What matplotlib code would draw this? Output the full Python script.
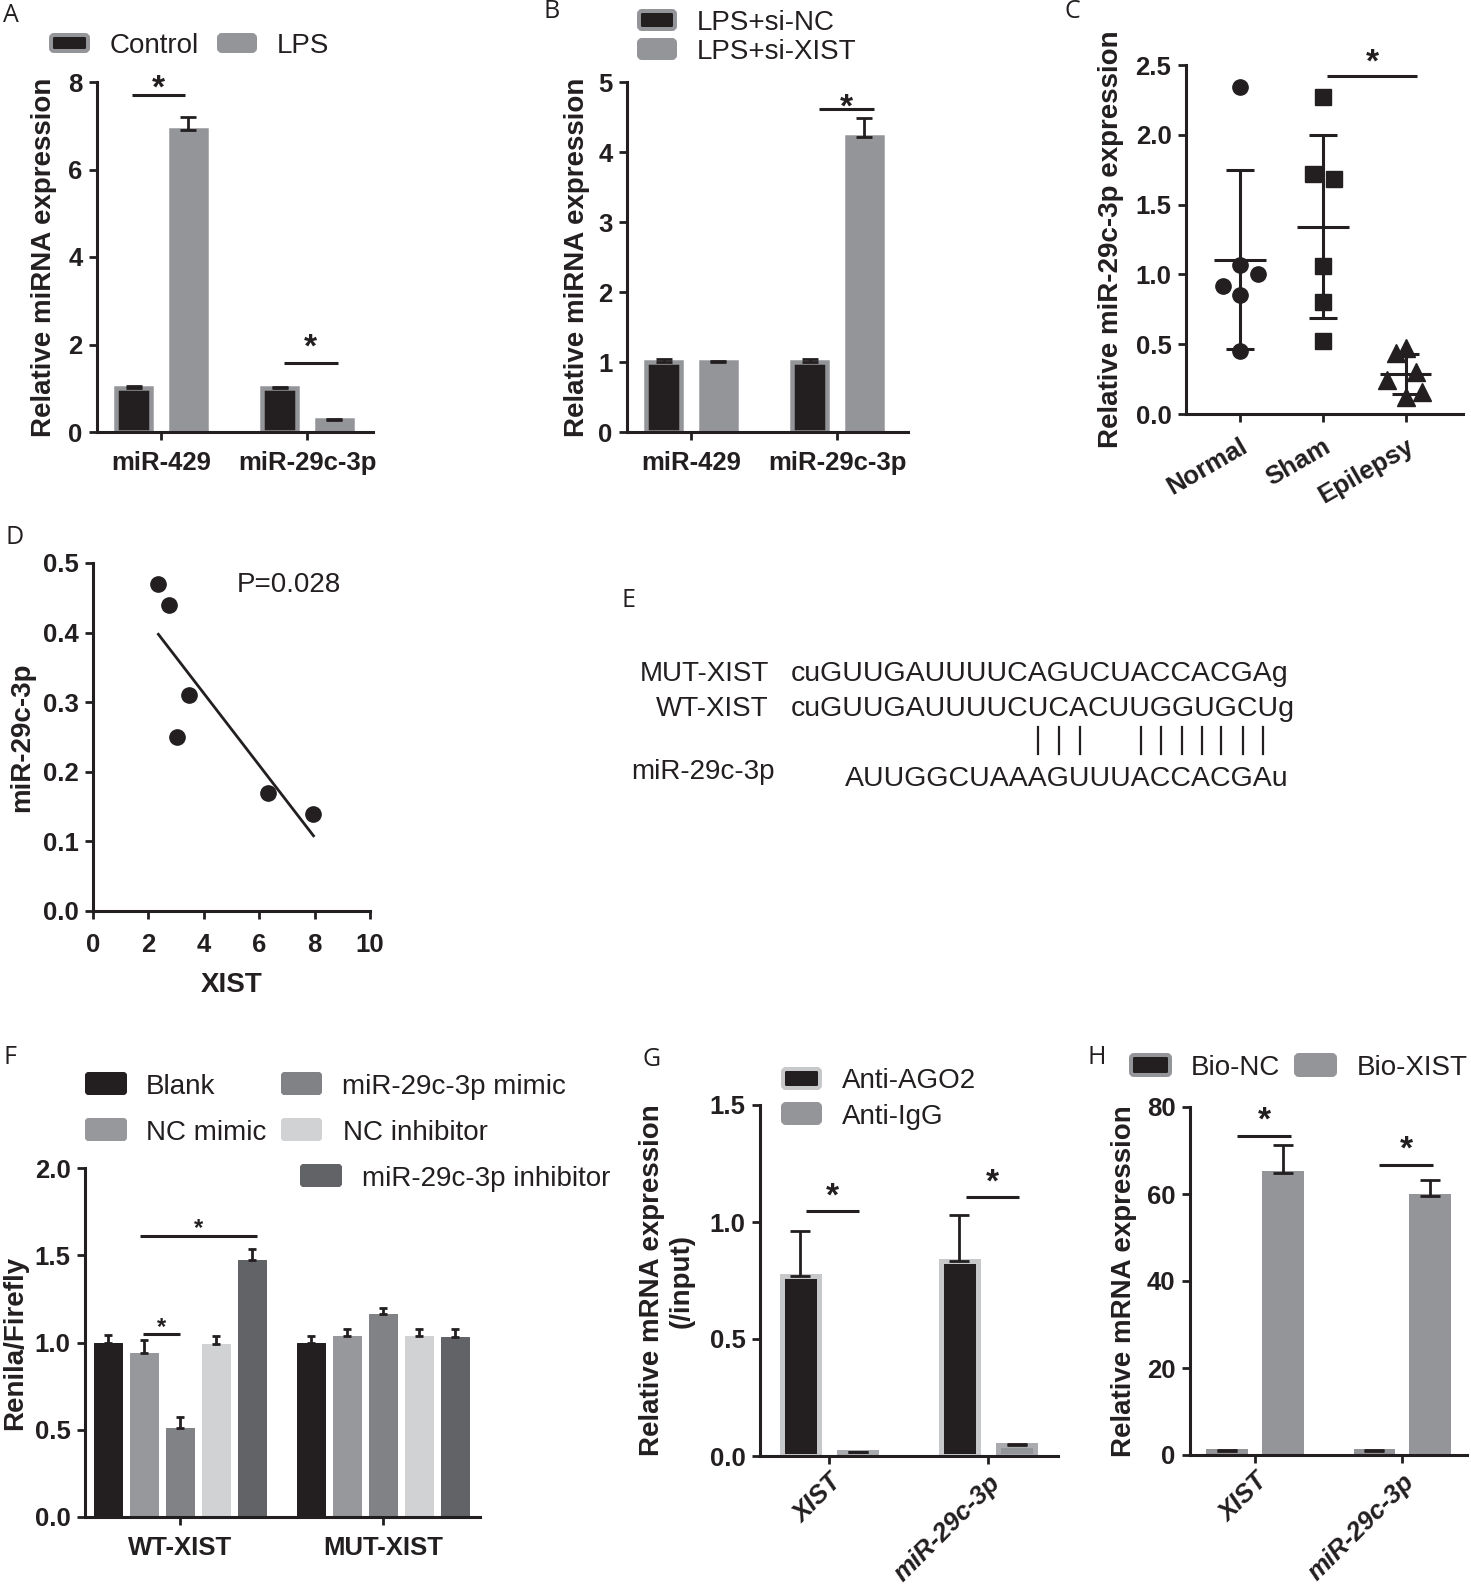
"""Eight-panel XIST / miR-29c-3p figure (A-H) rebuilt with matplotlib."""

import matplotlib
matplotlib.use("Agg")
import matplotlib.pyplot as plt
import numpy as np
from matplotlib.lines import Line2D
from matplotlib.patches import FancyBboxPatch
from matplotlib.transforms import IdentityTransform
from matplotlib.font_manager import FontProperties

W, H, DPI = 1471, 1588, 100
INK = "#231f20"
GREY = "#939598"
PALE = "#c7c8ca"

plt.rcParams.update({
    "font.family": ["Liberation Sans", "DejaVu Sans"],
    "font.size": 20,
    "text.color": INK,
    "axes.edgecolor": INK,
    "axes.labelcolor": INK,
    "xtick.color": INK,
    "ytick.color": INK,
    "axes.linewidth": 2.2,
    "xtick.major.width": 2.0,
    "ytick.major.width": 2.0,
    "xtick.major.size": 5.5,
    "ytick.major.size": 5.5,
    "xtick.major.pad": 8,
    "ytick.major.pad": 5,
    "xtick.labelsize": 18.5,
    "ytick.labelsize": 18.5,
    "axes.spines.top": False,
    "axes.spines.right": False,
})

# ----------------------------------------------------------------------
# Data
# ----------------------------------------------------------------------
MIRS = ["miR-429", "miR-29c-3p"]

A_CONTROL = [1.0, 1.0]
A_CONTROL_ERR = [0.05, 0.04]
A_LPS = [6.9, 0.27]
A_LPS_ERR = [0.3, 0.02]

B_SI_NC = [1.0, 1.0]
B_SI_NC_ERR = [0.05, 0.04]
B_SI_XIST = [1.0, 4.22]
B_SI_XIST_ERR = [0.01, 0.27]

C_GROUPS = ["Normal", "Sham", "Epilepsy"]
C_NORMAL = [2.34, 1.07, 1.00, 0.92, 0.85, 0.45]
C_NORMAL_DX = [0.0, 0.0, 0.22, -0.2, 0.0, 0.0]
C_SHAM = [2.27, 1.72, 1.68, 1.06, 0.80, 0.525]
C_SHAM_DX = [0.0, -0.12, 0.13, 0.0, 0.0, 0.0]
C_EPILEPSY = [0.47, 0.435, 0.30, 0.24, 0.16, 0.125]
C_EPILEPSY_DX = [0.0, -0.12, 0.12, -0.23, 0.2, 0.0]

D_XIST = [2.36, 2.74, 3.04, 3.46, 6.31, 7.96]
D_MIR = [0.47, 0.44, 0.25, 0.31, 0.17, 0.14]
D_P_TEXT = "P=0.028"

E_MUT = "cuGUUGAUUUUCAGUCUACCACGAg"
E_WT = "cuGUUGAUUUUCUCACUUGGUGCUg"
E_MIR = "AUUGGCUAAAGUUUACCACGAu"
E_PAIRED = [9, 10, 11, 14, 15, 16, 17, 18, 19, 20]  # miR bases paired with WT

F_GROUPS = ["WT-XIST", "MUT-XIST"]
F_BLANK = [1.0, 1.0]
F_BLANK_ERR = [0.045, 0.035]
F_NC_MIMIC = [0.94, 1.04]
F_NC_MIMIC_ERR = [0.075, 0.04]
F_MIMIC = [0.51, 1.165]
F_MIMIC_ERR = [0.065, 0.035]
F_NC_INH = [0.99, 1.04]
F_NC_INH_ERR = [0.045, 0.04]
F_INH = [1.47, 1.03]
F_INH_ERR = [0.065, 0.05]

GH_TARGETS = ["XIST", "miR-29c-3p"]
G_AGO2 = [0.77, 0.835]
G_AGO2_ERR = [0.19, 0.195]
G_IGG = [0.015, 0.045]
G_IGG_ERR = [0.003, 0.006]

H_BIO_NC = [1.0, 1.0]
H_BIO_NC_ERR = [0.2, 0.2]
H_BIO_XIST = [64.8, 59.5]
H_BIO_XIST_ERR = [6.5, 3.7]

fig = plt.figure(figsize=(W / DPI, H / DPI), dpi=DPI)


# ----------------------------------------------------------------------
# Helpers (all layout numbers are output pixels, origin top-left)
# ----------------------------------------------------------------------
def frame(left, right, top, bottom):
    return fig.add_axes([left / W, 1 - bottom / H, (right - left) / W, (bottom - top) / H])


def px_lw(p):
    return p * 72 / DPI


def bars(ax, off, width, vals, errs, face, edge, lw, capsize):
    x = np.arange(len(vals)) + off
    ax.bar(x, vals, width, color=face, edgecolor=edge, linewidth=px_lw(lw), zorder=2)
    ax.errorbar(x, vals, yerr=[np.zeros(len(vals)), errs], fmt="none", ecolor=INK,
                elinewidth=2.0, capsize=capsize, capthick=2.0, zorder=3)


def sig(ax, group, x0, x1, y, gap_px, size=24):
    """Bracket line plus star, x0/x1 relative to the group centre."""
    x0, x1 = group + x0, group + x1
    ax.plot([x0, x1], [y, y], color=INK, lw=2.2, clip_on=False, solid_capstyle="butt")
    lift = px_lw(gap_px - 0.58 * size * DPI / 72)
    ax.annotate("*", ((x0 + x1) / 2, y), xytext=(0, lift), textcoords="offset points",
                ha="center", va="baseline", fontsize=size, fontweight="bold",
                annotation_clip=False)


def ylabel_at(ax, text, x_px):
    ax.set_ylabel(text, fontsize=20, fontweight="bold", va="center", ha="center")
    bb = ax.get_position()
    ax.yaxis.set_label_coords((x_px / W - bb.x0) / bb.width, 0.5)


def yticks(ax, values, fmt):
    ax.set_yticks(values, [fmt.format(v) for v in values], fontweight="bold")


def key(box, face, edge, label, tx, lw=4):
    x0, y0, x1, y1 = box
    h = lw / 2
    fig.add_artist(FancyBboxPatch((x0 + h, H - y1 + h), x1 - x0 - lw, y1 - y0 - lw,
                                  boxstyle="round,pad=0,rounding_size=3", fc=face, ec=edge,
                                  lw=px_lw(lw), transform=IdentityTransform()))
    yc = (y0 + y1) / 2
    fig.text(tx / W, 1 - (yc + 10) / H, label, fontsize=20, va="baseline", ha="left")


def letter(x, y, s):
    fig.text(x / W, 1 - y / H, s, fontsize=18, family=["Open Sans", "DejaVu Sans"],
             ha="left", va="center")


# ----------------------------------------------------------------------
# A
# ----------------------------------------------------------------------
ax = frame(97, 373, 82, 432)
bars(ax, -0.188, 0.243, A_CONTROL, A_CONTROL_ERR, INK, GREY, 4.5, 6)
bars(ax, 0.188, 0.243, A_LPS, A_LPS_ERR, GREY, GREY, 4.5, 6)
ax.set_xlim(-0.438, 1.452)
ax.set_ylim(0, 8)
yticks(ax, [0, 2, 4, 6, 8], "{:d}")
ax.set_xticks([0, 1], MIRS, fontweight="bold")
ylabel_at(ax, "Relative miRNA expression", 44)
sig(ax, 0, -0.2, 0.165, 7.7, 17)
sig(ax, 1, -0.16, 0.21, 1.58, 26)
key((49, 33, 90, 53), INK, GREY, "Control", 110)
key((217, 33, 257, 53), GREY, GREY, "LPS", 277)
letter(3, 16, "A")

# ----------------------------------------------------------------------
# B
# ----------------------------------------------------------------------
ax = frame(627, 908, 82, 432)
bars(ax, -0.188, 0.243, B_SI_NC, B_SI_NC_ERR, INK, GREY, 4.5, 6)
bars(ax, 0.188, 0.243, B_SI_XIST, B_SI_XIST_ERR, GREY, GREY, 4.5, 6)
ax.set_xlim(-0.438, 1.486)
ax.set_ylim(0, 5)
yticks(ax, [0, 1, 2, 3, 4, 5], "{:d}")
ax.set_xticks([0, 1], MIRS, fontweight="bold")
ylabel_at(ax, "Relative miRNA expression", 577)
sig(ax, 1, -0.12, 0.25, 4.61, 12)
key((637, 9, 677, 31), INK, GREY, "LPS+si-NC", 697)
key((637, 38, 677, 60), GREY, GREY, "LPS+si-XIST", 697)
letter(543, 12, "B")

# ----------------------------------------------------------------------
# C
# ----------------------------------------------------------------------
ax = frame(1186, 1463, 65, 414)
for i, (vals, dx, mk, ms) in enumerate([(C_NORMAL, C_NORMAL_DX, "o", 11),
                                         (C_SHAM, C_SHAM_DX, "s", 11),
                                         (C_EPILEPSY, C_EPILEPSY_DX, "^", 13)]):
    vals = np.asarray(vals)
    ax.plot(i + np.asarray(dx), vals, ls="none", marker=mk, ms=ms, color=INK,
            clip_on=False, zorder=3)
    m, sd = vals.mean(), vals.std(ddof=1)
    ax.hlines(m, i - 0.31, i + 0.31, color=INK, lw=2.2, zorder=2)
    ax.vlines(i, m - sd, m + sd, color=INK, lw=2.2, zorder=2)
    ax.hlines([m - sd, m + sd], i - 0.165, i + 0.165, color=INK, lw=2.2, zorder=2)
ax.set_xlim(-0.65, 2.69)
ax.set_ylim(0, 2.5)
yticks(ax, [0, 0.5, 1.0, 1.5, 2.0, 2.5], "{:.1f}")
ax.set_xticks([0, 1, 2], C_GROUPS, fontweight="bold", rotation=30, ha="right",
              rotation_mode="anchor")
ax.tick_params(axis="x", pad=9)
ylabel_at(ax, "Relative miR-29c-3p expression", 1111)
sig(ax, 0, 1.05, 2.14, 2.42, 24)
letter(1065, 12, "C")

# ----------------------------------------------------------------------
# D
# ----------------------------------------------------------------------
ax = frame(93, 370, 563, 911)
ax.plot(D_XIST, D_MIR, ls="none", marker="o", ms=11, color=INK, zorder=3)
slope, icpt = np.polyfit(D_XIST, D_MIR, 1)
xs = np.array([min(D_XIST), max(D_XIST)])
ax.plot(xs, slope * xs + icpt, color=INK, lw=2.0)
ax.set_xlim(0, 10)
ax.set_ylim(0, 0.5)
ax.set_xticks([0, 2, 4, 6, 8, 10], ["0", "2", "4", "6", "8", "10"], fontweight="bold")
ax.tick_params(axis="x", pad=10)
yticks(ax, [0, 0.1, 0.2, 0.3, 0.4, 0.5], "{:.1f}")
ylabel_at(ax, "miR-29c-3p", 22)
ax.set_xlabel("XIST", fontsize=20, fontweight="bold", va="center")
bb = ax.get_position()
ax.xaxis.set_label_coords(0.5, ((1 - 985 / H) - bb.y0) / bb.height)
fig.text(237 / W, 1 - 592 / H, D_P_TEXT, fontsize=20, ha="left", va="baseline")
letter(5, 537, "D")

# ----------------------------------------------------------------------
# E (sequence alignment)
# ----------------------------------------------------------------------
SEQ_SIZE = 20.5
fig.text(769 / W, 1 - 681 / H, "MUT-XIST", fontsize=20, ha="right", va="baseline")
fig.text(769 / W, 1 - 716 / H, "WT-XIST", fontsize=20, ha="right", va="baseline")
fig.text(631 / W, 1 - 779 / H, "miR-29c-3p", fontsize=20, ha="left", va="baseline")
fig.text(791 / W, 1 - 681 / H, E_MUT, fontsize=SEQ_SIZE, ha="left", va="baseline")
fig.text(791 / W, 1 - 716 / H, E_WT, fontsize=SEQ_SIZE, ha="left", va="baseline")
fig.text(845 / W, 1 - 786 / H, E_MIR, fontsize=SEQ_SIZE, ha="left", va="baseline")
renderer = fig.canvas.get_renderer()
fp = FontProperties(family="Liberation Sans", size=SEQ_SIZE)


def prefix_w(k):
    if k == 0:
        return 0.0
    return renderer.get_text_width_height_descent(E_MIR[:k], fp, ismath=False)[0]


for i in E_PAIRED:
    xc = 845 + (prefix_w(i) + prefix_w(i + 1)) / 2
    fig.add_artist(Line2D([xc / W, xc / W], [1 - 727 / H, 1 - 754 / H],
                          transform=fig.transFigure, color=INK, lw=1.6))
letter(622, 600, "E")

# ----------------------------------------------------------------------
# F
# ----------------------------------------------------------------------
ax = frame(85, 480, 1168, 1517)
F_SERIES = [
    (F_BLANK, F_BLANK_ERR, INK),
    (F_NC_MIMIC, F_NC_MIMIC_ERR, "#96989b"),
    (F_MIMIC, F_MIMIC_ERR, "#808285"),
    (F_NC_INH, F_NC_INH_ERR, "#d1d2d4"),
    (F_INH, F_INH_ERR, "#626366"),
]
for k, (vals, errs, col) in enumerate(F_SERIES):
    bars(ax, (k - 2) * 0.177, 0.136, vals, errs, col, col, 1.0, 3.2)
ax.set_xlim(-0.468, 1.478)
ax.set_ylim(0, 2.0)
yticks(ax, [0, 0.5, 1.0, 1.5, 2.0], "{:.1f}")
ax.set_xticks([0, 1], F_GROUPS, fontweight="bold")
ylabel_at(ax, "Renila/Firefly", 15)
sig(ax, 0, -0.195, 0.38, 1.61, 15, size=17)
sig(ax, 0, -0.18, 0.0, 1.047, 13.6, size=17)
key((85, 1072, 127, 1095), INK, INK, "Blank", 146, lw=1)
key((281, 1072, 322, 1095), "#808285", "#808285", "miR-29c-3p mimic", 342, lw=1)
key((85, 1118, 127, 1141), "#96989b", "#96989b", "NC mimic", 146, lw=1)
key((281, 1118, 322, 1141), "#d1d2d4", "#d1d2d4", "NC inhibitor", 343, lw=1)
key((300, 1164, 342, 1187), "#626366", "#626366", "miR-29c-3p inhibitor", 362, lw=1)
letter(4, 1057, "F")

# ----------------------------------------------------------------------
# G
# ----------------------------------------------------------------------
ax = frame(760, 1058, 1105, 1456)
bars(ax, -0.18, 0.235, G_AGO2, G_AGO2_ERR, INK, PALE, 5, 7)
bars(ax, 0.18, 0.235, G_IGG, G_IGG_ERR, GREY, "#a9abae", 5, 7)
ax.set_xlim(-0.434, 1.44)
ax.set_ylim(0, 1.5)
yticks(ax, [0, 0.5, 1.0, 1.5], "{:.1f}")
ax.set_xticks([0, 1], GH_TARGETS, fontweight="bold", style="italic", rotation=45,
              ha="right", rotation_mode="anchor")
ax.tick_params(axis="x", pad=5)
ylabel_at(ax, "Relative mRNA expression\n(/input)", 667)
sig(ax, 0, -0.145, 0.19, 1.047, 25)
sig(ax, 1, -0.14, 0.195, 1.107, 25)
key((781, 1067, 822, 1090), INK, PALE, "Anti-AGO2", 842)
key((781, 1102, 822, 1125), GREY, GREY, "Anti-IgG", 842)
letter(643, 1059, "G")

# ----------------------------------------------------------------------
# H
# ----------------------------------------------------------------------
ax = frame(1190, 1467, 1107, 1455)
bars(ax, -0.19, 0.255, H_BIO_NC, H_BIO_NC_ERR, INK, GREY, 4, 7)
bars(ax, 0.19, 0.255, H_BIO_XIST, H_BIO_XIST_ERR, GREY, GREY, 4, 7)
ax.set_xlim(-0.442, 1.44)
ax.set_ylim(0, 80)
yticks(ax, [0, 20, 40, 60, 80], "{:d}")
ax.set_xticks([0, 1], GH_TARGETS, fontweight="bold", style="italic", rotation=45,
              ha="right", rotation_mode="anchor")
ax.tick_params(axis="x", pad=5)
ylabel_at(ax, "Relative mRNA expression", 1124)
sig(ax, 0, -0.12, 0.245, 73.3, 26)
sig(ax, 1, -0.156, 0.21, 66.7, 26)
key((1129, 1053, 1172, 1077), INK, GREY, "Bio-NC", 1191)
key((1294, 1053, 1337, 1077), GREY, GREY, "Bio-XIST", 1357)
letter(1088, 1058, "H")

fig.savefig("out.png", dpi=DPI)
